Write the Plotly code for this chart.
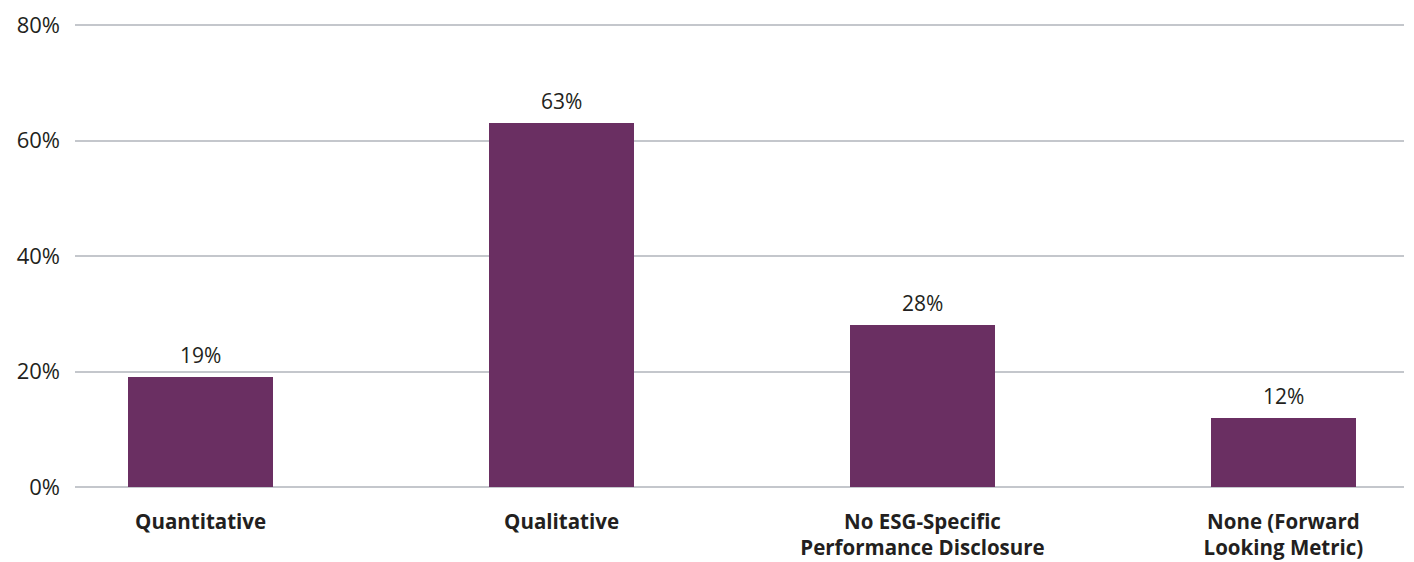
import plotly.graph_objects as go

categories = ["Quantitative", "Qualitative", "No ESG-Specific<br>Performance Disclosure", "None (Forward<br>Looking Metric)"]
values = [19, 63, 28, 12]
y_ticks = [0, 20, 40, 60, 80]
y_tick_labels = ["0%", "20%", "40%", "60%", "80%"]

bar_color = "#6A2F62"
text_color = "#231F20"
font_family = "'Open Sans', sans-serif"

fig = go.Figure()
fig.add_trace(go.Bar(
    x=list(range(len(categories))),
    y=values,
    marker=dict(color=bar_color, line=dict(width=0)),
    width=0.40,
    hoverinfo="skip",
))

for i, v in enumerate(values):
    fig.add_annotation(
        x=i, y=v, text=f"{v}%", showarrow=False,
        yanchor="bottom", yshift=6,
        font=dict(family=font_family, size=21, color=text_color),
    )

fig.update_layout(
    width=1414, height=562,
    margin=dict(l=75, r=10, t=22, b=72),
    plot_bgcolor="white", paper_bgcolor="white",
    showlegend=False,
    bargap=0,
)
fig.update_xaxes(
    tickmode="array",
    tickvals=list(range(len(categories))),
    ticktext=[f"<b>{c}</b>" for c in categories],
    range=[-0.348, 3.334],
    showgrid=False, zeroline=False, showline=False,
    ticks="", ticklabelstandoff=17, automargin=False,
    tickfont=dict(family=font_family, size=20.5, color=text_color),
)
fig.update_yaxes(
    tickmode="array",
    tickvals=y_ticks,
    ticktext=y_tick_labels,
    range=[-0.52, 80.52],
    showgrid=True, gridcolor="#C4C7CC", gridwidth=2,
    zeroline=False, showline=False, automargin=False,
    ticks="", ticklabelstandoff=14,
    tickfont=dict(family=font_family, size=22, color=text_color),
)

fig.write_html("out.html")
